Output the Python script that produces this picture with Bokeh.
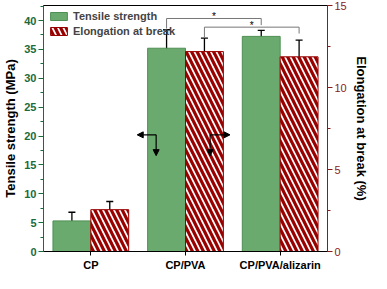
from bokeh.plotting import figure
from bokeh.models import (Range1d, LinearAxis, SingleIntervalTicker, FixedTicker,
                          ColumnDataSource, Whisker, TeeHead, Arrow, NormalHead, Legend)
from bokeh.embed import file_html
from bokeh.resources import INLINE
from bokeh.core.properties import value

categories = ["CP", "CP/PVA", "CP/PVA/alizarin"]
tensile = [5.3, 35.2, 37.25]
tensile_err = [1.5, 3.2, 1.05]
elong = [2.55, 12.19, 11.87]
elong_err = [0.5, 0.82, 1.02]

FONT = "Liberation Sans"
GREEN = "#6BAA6E"
GREEN_EDGE = "#4E8F52"
RED = "#990000"
AX_GREEN = "#1B6B3A"
AX_RED = "#8B1A1A"
BW = 0.4

xs = list(range(len(categories)))
xg = [x - BW / 2 for x in xs]
xr = [x + BW / 2 for x in xs]

p = figure(width=371, height=273, output_backend="svg", toolbar_location=None,
           x_range=Range1d(-0.5, 2.5), y_range=Range1d(0, 42.6),
           min_border_top=5, min_border_left=0, min_border_right=0, min_border_bottom=0)
p.extra_y_ranges = {"el": Range1d(0, 15)}
p.xgrid.visible = False
p.ygrid.visible = False
p.outline_line_color = "black"
p.outline_line_width = 1

# left axis
ya = p.yaxis[0]
ya.ticker = SingleIntervalTicker(interval=5, num_minor_ticks=2)
ya.axis_label = "Tensile strength (MPa)"
ya.axis_label_text_font = FONT
ya.axis_label_text_font_style = "bold"
ya.axis_label_text_font_size = "13px"
ya.axis_label_text_color = "black"
ya.axis_label_standoff = 3
ya.major_label_text_font = FONT
ya.major_label_text_font_style = "bold"
ya.major_label_text_font_size = "11px"
ya.major_label_text_color = AX_GREEN
ya.major_label_standoff = 2
ya.axis_line_color = AX_GREEN
ya.major_tick_line_color = AX_GREEN
ya.minor_tick_line_color = AX_GREEN
ya.major_tick_in = 0
ya.major_tick_out = 5
ya.minor_tick_in = 0
ya.minor_tick_out = 3

# right axis
ra = LinearAxis(y_range_name="el", ticker=SingleIntervalTicker(interval=5, num_minor_ticks=2))
ra.axis_label = "Elongation at break (%)"
ra.axis_label_text_font = FONT
ra.axis_label_text_font_style = "bold"
ra.axis_label_text_font_size = "13px"
ra.axis_label_text_color = "black"
ra.axis_label_standoff = 4
ra.major_label_text_font = FONT
ra.major_label_text_font_size = "11px"
ra.major_label_text_color = AX_RED
ra.major_label_standoff = 2
ra.axis_line_color = AX_RED
ra.major_tick_line_color = AX_RED
ra.minor_tick_line_color = AX_RED
ra.major_tick_in = 0
ra.major_tick_out = 5
ra.minor_tick_in = 0
ra.minor_tick_out = 3
p.add_layout(ra, "right")

# x axis
xa = p.xaxis[0]
xa.ticker = FixedTicker(ticks=xs)
xa.major_label_overrides = {i: c for i, c in zip(xs, categories)}
xa.major_label_text_font = FONT
xa.major_label_text_font_style = "bold"
xa.major_label_text_font_size = "11px"
xa.major_label_text_color = "black"
xa.major_label_standoff = 3
xa.minor_tick_line_color = None
xa.major_tick_in = 0
xa.major_tick_out = 4
xa.axis_line_color = "black"

src_g = ColumnDataSource(dict(x=xg, top=tensile,
                              lo=[v - e for v, e in zip(tensile, tensile_err)],
                              hi=[v + e for v, e in zip(tensile, tensile_err)]))
src_r = ColumnDataSource(dict(x=xr, top=elong,
                              lo=[v - e for v, e in zip(elong, elong_err)],
                              hi=[v + e for v, e in zip(elong, elong_err)]))

rg = p.vbar(x="x", top="top", width=BW, source=src_g, fill_color=GREEN,
            line_color=GREEN_EDGE, line_width=1)
rr = p.vbar(x="x", top="top", width=BW, source=src_r, y_range_name="el",
            fill_color=RED, line_color=RED, line_width=1,
            hatch_pattern="left_diagonal_line", hatch_color="white",
            hatch_weight=1.7, hatch_scale=11)

for src, rname in ((src_g, "default"), (src_r, "el")):
    w = Whisker(base="x", upper="hi", lower="lo", source=src, y_range_name=rname,
                line_color="black", line_width=1.3,
                upper_head=TeeHead(size=7, line_color="black", line_width=1.3),
                lower_head=TeeHead(size=7, line_color="black", line_width=1.3))
    p.add_layout(w)

legend = Legend(items=[("Tensile strength", [rg]), ("Elongation at break", [rr])],
                location="top_left", border_line_color=None, background_fill_alpha=0,
                label_text_font=FONT, label_text_font_style="bold",
                label_text_font_size="11px", glyph_width=21, glyph_height=10,
                label_height=11, spacing=3, padding=4, margin=5, label_standoff=4)
p.add_layout(legend)

# significance brackets
b1_top = 40.35
b1_x = [xg[1], xg[1], xg[2], xg[2]]
b1_y = [tensile[1] + tensile_err[1] + 0.2, b1_top, b1_top, tensile[2] + tensile_err[2] + 0.9]
p.line(b1_x, b1_y, line_color="#777777", line_width=1)
p.text([(xg[1] + xg[2]) / 2], [b1_top], text=["*"], text_align="center",
       text_baseline="bottom", text_font=value(FONT), text_font_size="10px",
       text_color="black", y_offset=4)

b2_top = 13.68
b2_x = [xr[1], xr[1], xr[2], xr[2]]
b2_y = [elong[1] + elong_err[1] + 0.05, b2_top, b2_top, elong[2] + elong_err[2] + 0.4]
p.line(b2_x, b2_y, line_color="#777777", line_width=1, y_range_name="el")
p.text([(xr[1] + xr[2]) / 2], [b2_top], text=["*"], text_align="center",
       text_baseline="bottom", text_font=value(FONT), text_font_size="10px",
       text_color="black", y_offset=4, y_range_name="el")

# axis-direction arrows
ay, ay_end = 20.2, 16.6
lx_c, lx_e = xg[1] - 0.11, xg[1] - 0.31
rx_c, rx_e = xr[1] + 0.06, xr[1] + 0.27
for (x0, y0, x1, y1) in [(lx_c, ay, lx_e, ay), (lx_c, ay, lx_c, ay_end),
                         (rx_c, ay, rx_e, ay), (rx_c, ay, rx_c, ay_end)]:
    p.add_layout(Arrow(end=NormalHead(size=6, fill_color="black", line_color="black"),
                       x_start=x0, y_start=y0, x_end=x1, y_end=y1,
                       line_color="black", line_width=1.2))

open("out.html", "w").write(file_html(p, INLINE))
